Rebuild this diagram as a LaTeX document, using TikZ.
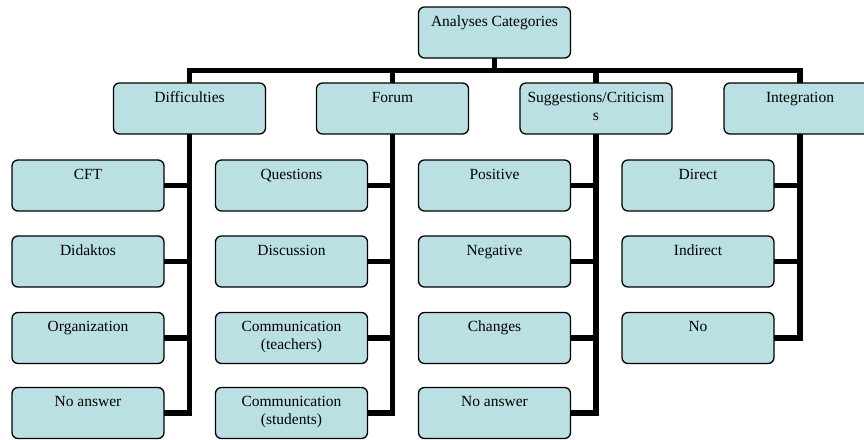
\documentclass[tikz,border=0pt]{standalone}
\usepackage{fontspec}
\setmainfont{Liberation Serif}
\definecolor{boxfill}{RGB}{187,224,227}
\newcommand{\bxtext}[1]{\begin{minipage}[c][51pt][t]{152pt}\centering\fontsize{15.5}{18}\selectfont\rule{0pt}{19pt}#1\end{minipage}}
\tikzset{
  catbox/.style={draw=black, line width=1.3pt, fill=boxfill, rounded corners=6pt, inner sep=0pt, outer sep=0pt},
  link/.style={line width=5.5pt, draw=black, line join=miter}
}
\begin{document}
\begin{tikzpicture}[x=1pt,y=1pt]
\useasboundingbox (0,0) rectangle (864,-439);
% root
\node[catbox] (root) at (494.5,-32.5) {\bxtext{Analyses Categories}};
% level 1
\node[catbox] (dif) at (189.5,-108.5) {\bxtext{Difficulties}};
\node[catbox] (for) at (392.5,-108.5) {\bxtext{Forum}};
\node[catbox] (sug) at (596,-108.5) {\bxtext{Suggestions/Criticism\\s}};
\node[catbox] (int) at (800,-108.5) {\bxtext{Integration}};
% level 2 column 1
\node[catbox] (cft) at (88,-185.5) {\bxtext{CFT}};
\node[catbox] (did) at (88,-261.5) {\bxtext{Didaktos}};
\node[catbox] (org) at (88,-338) {\bxtext{Organization}};
\node[catbox] (na1) at (88,-413) {\bxtext{No answer}};
% column 2
\node[catbox] (que) at (291.5,-185.5) {\bxtext{Questions}};
\node[catbox] (dis) at (291.5,-261.5) {\bxtext{Discussion}};
\node[catbox] (cte) at (291.5,-338) {\bxtext{Communication\\(teachers)}};
\node[catbox] (cst) at (291.5,-413) {\bxtext{Communication\\(students)}};
% column 3
\node[catbox] (pos) at (494.5,-185.5) {\bxtext{Positive}};
\node[catbox] (neg) at (494.5,-261.5) {\bxtext{Negative}};
\node[catbox] (cha) at (494.5,-338) {\bxtext{Changes}};
\node[catbox] (na3) at (494.5,-413) {\bxtext{No answer}};
% column 4
\node[catbox] (dir) at (698,-185.5) {\bxtext{Direct}};
\node[catbox] (ind) at (698,-261.5) {\bxtext{Indirect}};
\node[catbox] (no) at (698,-338) {\bxtext{No}};
% connectors from root
\coordinate (bar) at (494.5,-70.5);
\begin{scope}[on background layer/.style={}]
\foreach \c in {dif,for,sug,int}{
  \draw[link] (root.south) -- (bar) -| (\c.north);
}
\foreach \p/\c in {dif/cft,dif/did,dif/org,dif/na1,for/que,for/dis,for/cte,for/cst,sug/pos,sug/neg,sug/cha,sug/na3,int/dir,int/ind,int/no}{
  \draw[link] (\p.south) |- (\c.east);
}
\end{scope}
% redraw boxes on top of connector ends
\end{tikzpicture}
\end{document}
